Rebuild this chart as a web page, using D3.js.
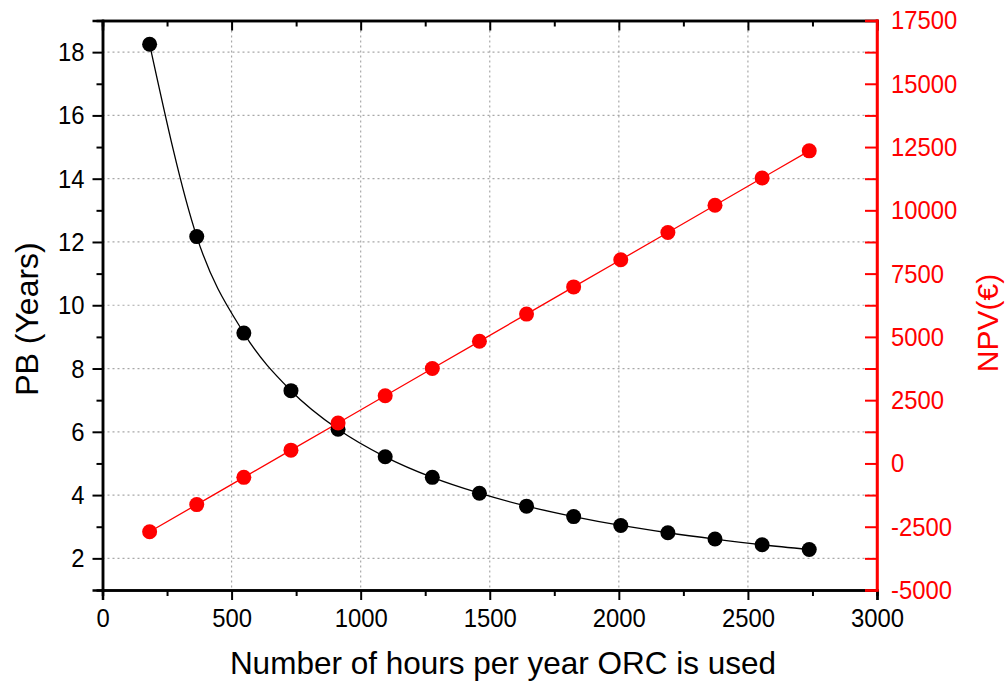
<!DOCTYPE html>
<html><head><meta charset="utf-8">
<script src="https://cdn.jsdelivr.net/npm/d3@7"></script>
<style>body{margin:0;background:#fff}svg{display:block}text{font-family:"Liberation Sans",Arial,sans-serif}</style>
</head><body>
<svg id="c" width="1007" height="682"></svg>
<script>
const hours = [182.5,365,547.5,730,912.5,1095,1277.5,1460,1642.5,1825,2007.5,2190,2372.5,2555,2737.5];
const pb = [18.25,12.17,9.12,7.30,6.08,5.21,4.56,4.06,3.65,3.32,3.04,2.81,2.61,2.43,2.28];
const npv = [-2700,-1625,-550,525,1600,2675,3750,4825,5900,6975,8050,9125,10200,11275,12350];
const xTicks = [0,500,1000,1500,2000,2500,3000];
const yLeftTicks = [2,4,6,8,10,12,14,16,18];
const yRightTicks = [-5000,-2500,0,2500,5000,7500,10000,12500,15000,17500];

const svg = d3.select("#c");
const PL=102.5, PR=877, PT=20.5, PB=590;
const x = d3.scaleLinear().domain([0,3000]).range([PL,PR]);
const yL = d3.scaleLinear().domain([1,19]).range([PB,PT]);
const yR = d3.scaleLinear().domain([-5000,17500]).range([PB,PT]);
const fmt = d => String(d);

// grid
const g = svg.append("g");
g.selectAll("line.hg").data(yLeftTicks).join("line")
  .attr("x1",PL).attr("x2",PR).attr("y1",d=>yL(d)).attr("y2",d=>yL(d))
  .attr("stroke","#a8a8a8").attr("stroke-width",1.2).attr("stroke-dasharray","2,3");
g.selectAll("line.vg").data(xTicks.slice(1,-1)).join("line")
  .attr("y1",PT).attr("y2",PB).attr("x1",d=>x(d)).attr("x2",d=>x(d))
  .attr("stroke","#a8a8a8").attr("stroke-width",1.2).attr("stroke-dasharray","2,3");

// axes
const fs = 26.5, sx = 0.9;
const axBottom = svg.append("g").attr("transform",`translate(0,${PB})`)
  .call(d3.axisBottom(x).tickValues(xTicks).tickSize(10).tickPadding(8).tickFormat(fmt));
const axBottomMinor = svg.append("g").attr("transform",`translate(0,${PB})`)
  .call(d3.axisBottom(x).tickValues(d3.range(250,3000,500)).tickSize(6).tickFormat(""));
const axTop = svg.append("g").attr("transform",`translate(0,${PT})`)
  .call(d3.axisBottom(x).tickValues(xTicks).tickSize(10).tickFormat(""));
const axTopMinor = svg.append("g").attr("transform",`translate(0,${PT})`)
  .call(d3.axisBottom(x).tickValues(d3.range(250,3000,500)).tickSize(6).tickFormat(""));
const axLeft = svg.append("g").attr("transform",`translate(${PL},0)`)
  .call(d3.axisLeft(yL).tickValues(yLeftTicks).tickSize(10).tickPadding(8).tickFormat(fmt));
const axLeftMinor = svg.append("g").attr("transform",`translate(${PL},0)`)
  .call(d3.axisLeft(yL).tickValues(d3.range(3,19,2)).tickSize(6).tickFormat(""));
const axRight = svg.append("g").attr("transform",`translate(${PR},0)`)
  .call(d3.axisLeft(yR).tickValues(d3.range(-5000,17501,1250)).tickSize(12).tickFormat(""));
const axRightLab = svg.append("g").attr("transform",`translate(${PR},0)`)
  .call(d3.axisRight(yR).tickValues(yRightTicks).tickSize(0).tickPadding(14).tickFormat(fmt));

[axBottom,axBottomMinor,axTop,axTopMinor,axLeft,axLeftMinor].forEach(a=>{
  a.attr("font-size",fs).attr("font-family","'Liberation Sans',Arial,sans-serif");
  a.select(".domain").attr("stroke","#000").attr("stroke-width",2.5);
  a.selectAll(".tick line").attr("stroke","#000").attr("stroke-width",2);
  a.selectAll("text").attr("fill","#000");
});
axBottom.selectAll("text").attr("dy","0.72em");
[axRight,axRightLab].forEach(a=>{
  a.attr("font-size",fs).attr("font-family","'Liberation Sans',Arial,sans-serif");
  a.select(".domain").attr("stroke","#ff0000").attr("stroke-width",2.5);
  a.selectAll(".tick line").attr("stroke","#ff0000").attr("stroke-width",2);
  a.selectAll("text").attr("fill","#ff0000");
});
axRightLab.select(".domain").remove();
// narrow tick labels horizontally
[axBottom,axLeft,axRightLab].forEach(a=>{
  a.selectAll(".tick text").each(function(){
    const t = d3.select(this);
    const xv = +t.attr("x") || 0;
    t.attr("x", xv/sx).attr("transform",`scale(${sx},1)`);
  });
});
svg.append("line").attr("x1",PR).attr("x2",PR).attr("y1",PT-1.25).attr("y2",PB+1.25).attr("stroke","#ff0000").attr("stroke-width",2.5);

// series
const idx = d3.range(hours.length);
svg.append("path").datum(idx)
  .attr("d", d3.line().x(i=>x(hours[i])).y(i=>yR(npv[i])))
  .attr("fill","none").attr("stroke","#ff0000").attr("stroke-width",1.3);
svg.append("path").datum(idx)
  .attr("d", d3.line().curve(d3.curveMonotoneX).x(i=>x(hours[i])).y(i=>yL(pb[i])))
  .attr("fill","none").attr("stroke","#000").attr("stroke-width",1.3);
svg.selectAll("circle.pb").data(idx).join("circle")
  .attr("cx",i=>x(hours[i])).attr("cy",i=>yL(pb[i])).attr("r",7.5).attr("fill","#000");
svg.selectAll("circle.npv").data(idx).join("circle")
  .attr("cx",i=>x(hours[i])).attr("cy",i=>yR(npv[i])).attr("r",7.5).attr("fill","#ff0000");

// titles
svg.append("text").attr("x",503).attr("y",674).attr("text-anchor","middle")
  .attr("font-size",31.5).text("Number of hours per year ORC is used");
svg.append("text").attr("transform","translate(38,319) rotate(-90)").attr("text-anchor","middle")
  .attr("font-size",32).text("PB (Years)");
svg.append("text").attr("transform","translate(998,323) rotate(-90)").attr("text-anchor","middle")
  .attr("font-size",30).attr("fill","#ff0000").text("NPV(€)");
</script>
</body></html>
